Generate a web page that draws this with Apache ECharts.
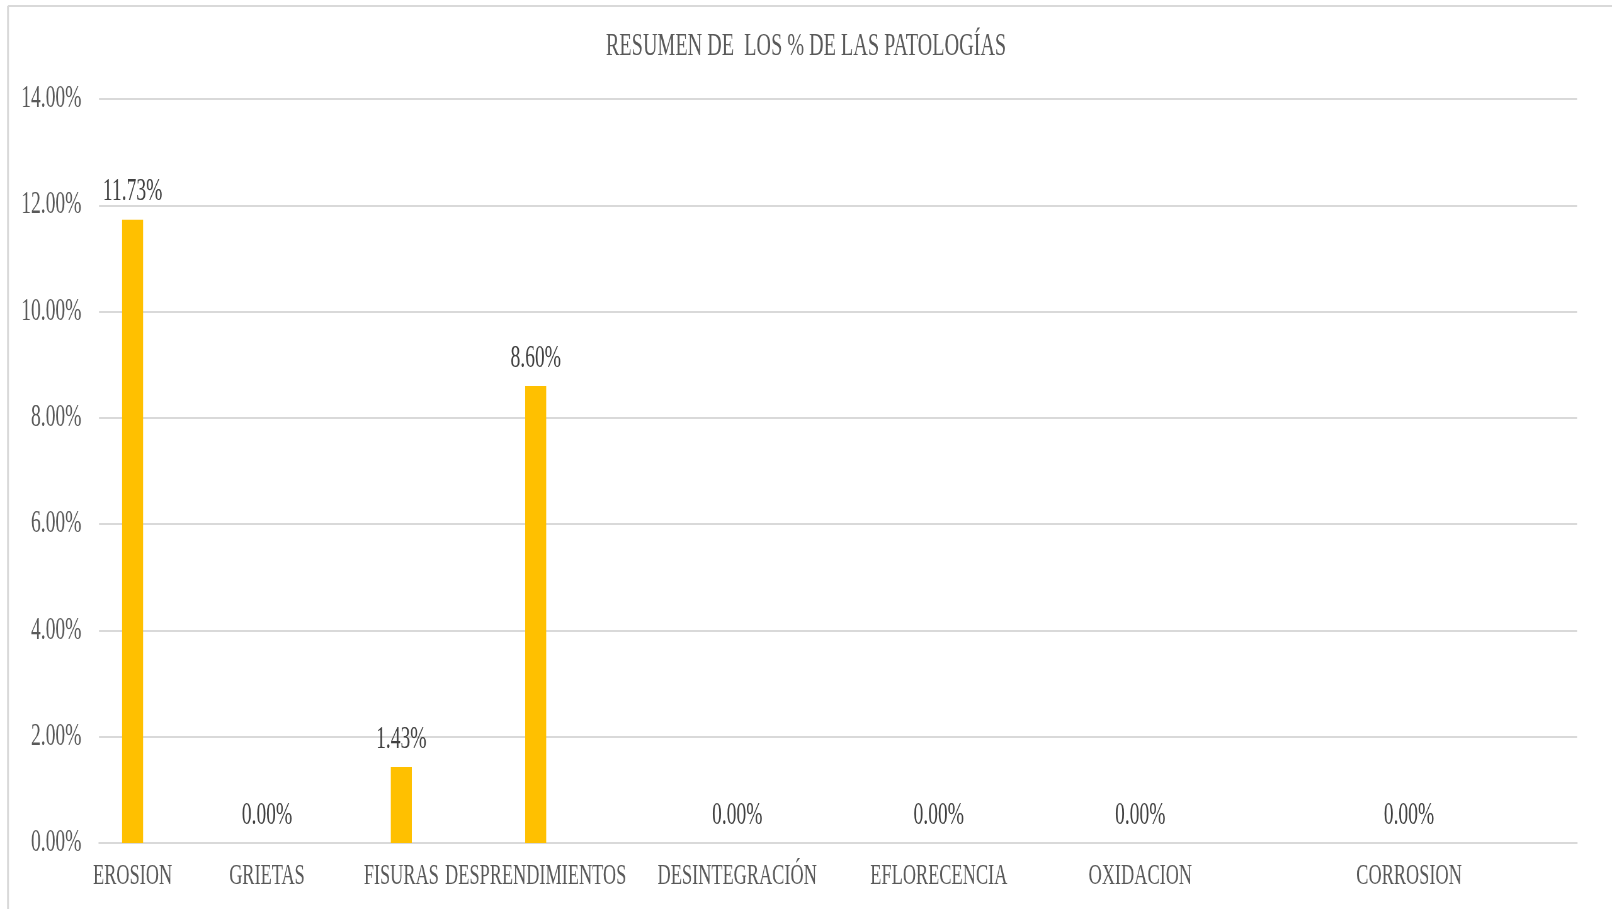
<!DOCTYPE html>
<html>
<head>
<meta charset="utf-8">
<script src="https://cdn.jsdelivr.net/npm/echarts@6/dist/echarts.min.js"></script>
<style>
html,body{margin:0;padding:0;background:#fff;overflow:hidden;width:1612px;height:909px;}
#chart{width:2560px;height:909px;transform:scaleX(0.6297);transform-origin:0 0;}
</style>
</head>
<body>
<div id="chart"></div>
<script>
// Category slots (blank entries are empty slots in the original chart layout)
const categories = ['EROSION','','GRIETAS','','FISURAS','','DESPRENDIMIENTOS','','','DESINTEGRACIÓN','','','EFLORECENCIA','','','OXIDACION','','','','CORROSION','',''];
const values     = [11.73, null, 0.00, null, 1.43, null, 8.60, null, null, 0.00, null, null, 0.00, null, null, 0.00, null, null, null, 0.00, null, null];
const yTicks = { min: 0, max: 14, interval: 2 };
const titleText = 'RESUMEN DE  LOS % DE LAS PATOLOGÍAS';

const S = 0.6297;
const font = 'Liberation Serif';
const chart = echarts.init(document.getElementById('chart'), null, {renderer:'canvas'});
chart.setOption({
  animation: false,
  backgroundColor: '#fff',
  title: {
    text: titleText, left: 'center', top: 26,
    textStyle: {fontFamily: font, fontSize: 32, fontWeight: 'normal', color: '#595959'}
  },
  graphic: [
    {type:'line', shape:{x1: 8/S, y1: 6, x2: 2560, y2: 6}, style:{stroke:'#d9d9d9', lineWidth:2}},
    {type:'line', shape:{x1: 8/S, y1: 6, x2: 8/S, y2: 909}, style:{stroke:'#d9d9d9', lineWidth:3}}
  ],
  grid: {left: 99/S, right: 2560 - 1577/S, top: 99, bottom: 909 - 843, containLabel: false},
  xAxis: {
    type: 'category', data: categories,
    axisTick: {show: false},
    axisLine: {lineStyle: {color: '#d9d9d9', width: 2}},
    axisLabel: {interval: 0, margin: 19, fontFamily: font, fontSize: 29, color: '#595959'}
  },
  yAxis: {
    type: 'value', min: yTicks.min, max: yTicks.max, interval: yTicks.interval,
    axisLine: {show: false}, axisTick: {show: false},
    splitLine: {lineStyle: {color: '#d9d9d9', width: 2}},
    axisLabel: {margin: 28, fontFamily: font, fontSize: 31, color: '#595959',
      formatter: v => v.toFixed(2) + '%'}
  },
  series: [{
    type: 'bar', data: values, barWidth: 21/S,
    itemStyle: {color: '#FFC000'},
    label: {show: true, position: 'top', distance: 12, fontFamily: font, fontSize: 31, color: '#404040',
      formatter: p => (p.value == null ? '' : p.value.toFixed(2) + '%')}
  }]
});
</script>
</body>
</html>
